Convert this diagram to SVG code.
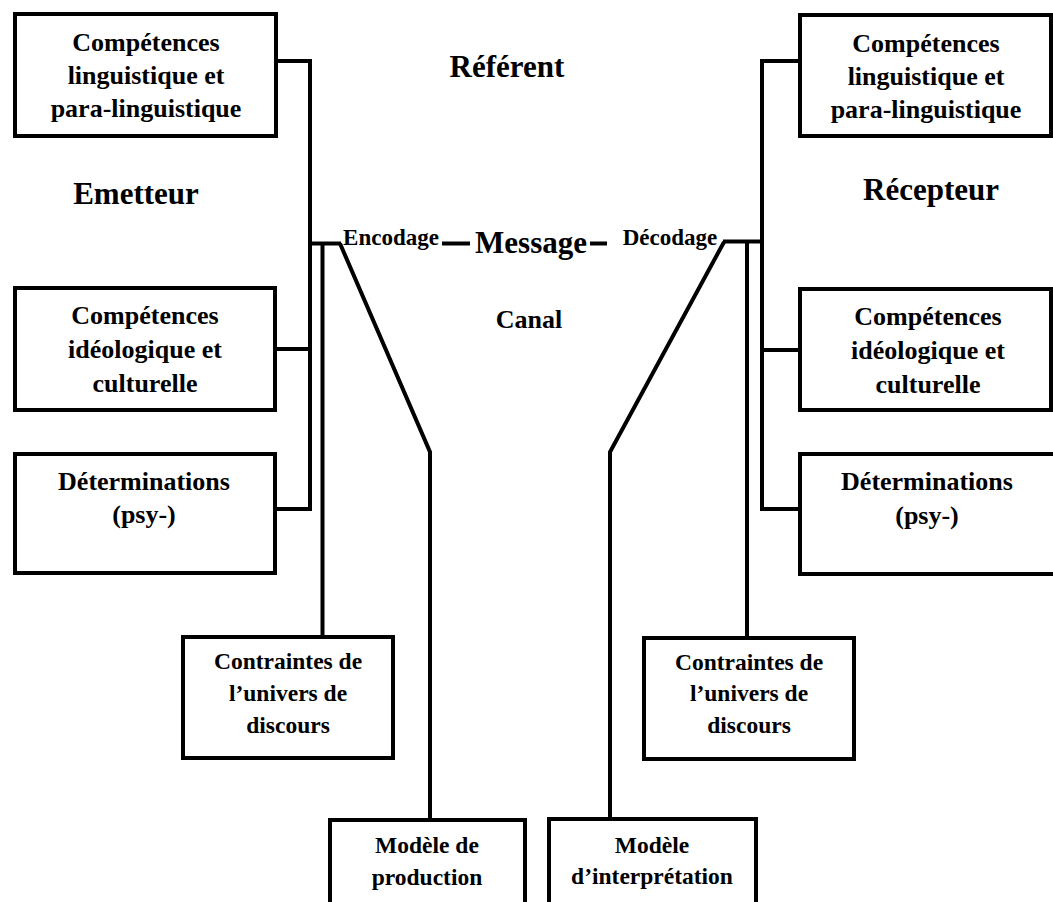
<svg xmlns="http://www.w3.org/2000/svg" width="1053" height="902" viewBox="0 0 1053 902">
  <style>
    text { font-family: "Liberation Serif", "Times New Roman", serif; font-weight: bold; fill: #000; text-anchor: middle; }
    .box { fill: #fff; stroke: #000; stroke-width: 4; }
    .big { font-size: 26px; }
    .small { font-size: 23.5px; }
    .head { font-size: 31px; }
    .mid { font-size: 23px; }
    .link { fill: none; stroke: #000; stroke-width: 4; stroke-linejoin: miter; stroke-linecap: butt; }
  </style>
  <rect width="1053" height="902" fill="#fff"/>

  <!-- connectors -->
  <g id="connectors">
    <!-- emitter side -->
    <polyline class="link" points="277,61 310,61 310,511"/>
    <line class="link" x1="276" y1="349" x2="310" y2="349"/>
    <line class="link" x1="276" y1="509" x2="312" y2="509"/>
    <line class="link" x1="308" y1="243.5" x2="341" y2="243.5"/>
    <line class="link" x1="322.5" y1="243.5" x2="322.5" y2="637"/>
    <polyline class="link" points="340,243.5 430,452 430,820"/>
    <!-- message dashes -->
    <line class="link" x1="442" y1="243.5" x2="470" y2="243.5"/>
    <line class="link" x1="590" y1="243.5" x2="607" y2="243.5"/>
    <!-- receiver side -->
    <polyline class="link" points="800,61 762,61 762,511"/>
    <line class="link" x1="762" y1="350" x2="800" y2="350"/>
    <line class="link" x1="760" y1="509" x2="800" y2="509"/>
    <line class="link" x1="723" y1="241.5" x2="764" y2="241.5"/>
    <line class="link" x1="747" y1="241.5" x2="747" y2="638"/>
    <polyline class="link" points="724,242 610,452 610,819"/>
  </g>

  <!-- emitter boxes -->
  <g id="emit-linguistique">
    <rect class="box" x="15" y="14" width="261" height="122"/>
    <text class="big" x="146" y="51">Compétences</text>
    <text class="big" x="146" y="84">linguistique et</text>
    <text class="big" x="146" y="117">para-linguistique</text>
  </g>
  <g id="emit-ideologique">
    <rect class="box" x="15" y="288" width="260" height="122"/>
    <text class="big" x="145" y="324">Compétences</text>
    <text class="big" x="145" y="358">idéologique et</text>
    <text class="big" x="145" y="392">culturelle</text>
  </g>
  <g id="emit-determinations">
    <rect class="box" x="15" y="454" width="260" height="119"/>
    <text class="big" x="144" y="490">Déterminations</text>
    <text class="big" x="144" y="523">(psy-)</text>
  </g>
  <g id="emit-contraintes">
    <rect class="box" x="183" y="637" width="210" height="121"/>
    <text class="small" x="288" y="669">Contraintes de</text>
    <text class="small" x="288" y="701">l’univers de</text>
    <text class="small" x="288" y="733">discours</text>
  </g>
  <g id="modele-production">
    <rect class="box" x="330" y="820" width="195" height="110"/>
    <text class="small" x="427" y="853">Modèle de</text>
    <text class="small" x="427" y="885">production</text>
  </g>

  <!-- receiver boxes -->
  <g id="recv-linguistique">
    <rect class="box" x="800" y="15" width="251" height="121"/>
    <text class="big" x="926" y="52">Compétences</text>
    <text class="big" x="926" y="85">linguistique et</text>
    <text class="big" x="926" y="118">para-linguistique</text>
  </g>
  <g id="recv-ideologique">
    <rect class="box" x="800" y="289" width="251" height="121"/>
    <text class="big" x="928" y="325">Compétences</text>
    <text class="big" x="928" y="359">idéologique et</text>
    <text class="big" x="928" y="393">culturelle</text>
  </g>
  <g id="recv-determinations">
    <rect class="box" x="800" y="454" width="270" height="120"/>
    <text class="big" x="927" y="490">Déterminations</text>
    <text class="big" x="927" y="524">(psy-)</text>
  </g>
  <g id="recv-contraintes">
    <rect class="box" x="644" y="638" width="210" height="121"/>
    <text class="small" x="749" y="670">Contraintes de</text>
    <text class="small" x="749" y="701">l’univers de</text>
    <text class="small" x="749" y="733">discours</text>
  </g>
  <g id="modele-interpretation">
    <rect class="box" x="549" y="819" width="207" height="110"/>
    <text class="small" x="652" y="853">Modèle</text>
    <text class="small" x="652" y="884">d’interprétation</text>
  </g>

  <!-- free labels -->
  <g id="labels">
    <text class="head" x="507" y="77">Référent</text>
    <text class="head" x="136" y="204">Emetteur</text>
    <text class="head" x="931" y="200">Récepteur</text>
    <text class="head" x="531" y="253">Message</text>
    <text class="mid" x="391" y="245">Encodage</text>
    <text class="mid" x="670" y="245">Décodage</text>
    <text class="big" x="529" y="328">Canal</text>
  </g>
</svg>
